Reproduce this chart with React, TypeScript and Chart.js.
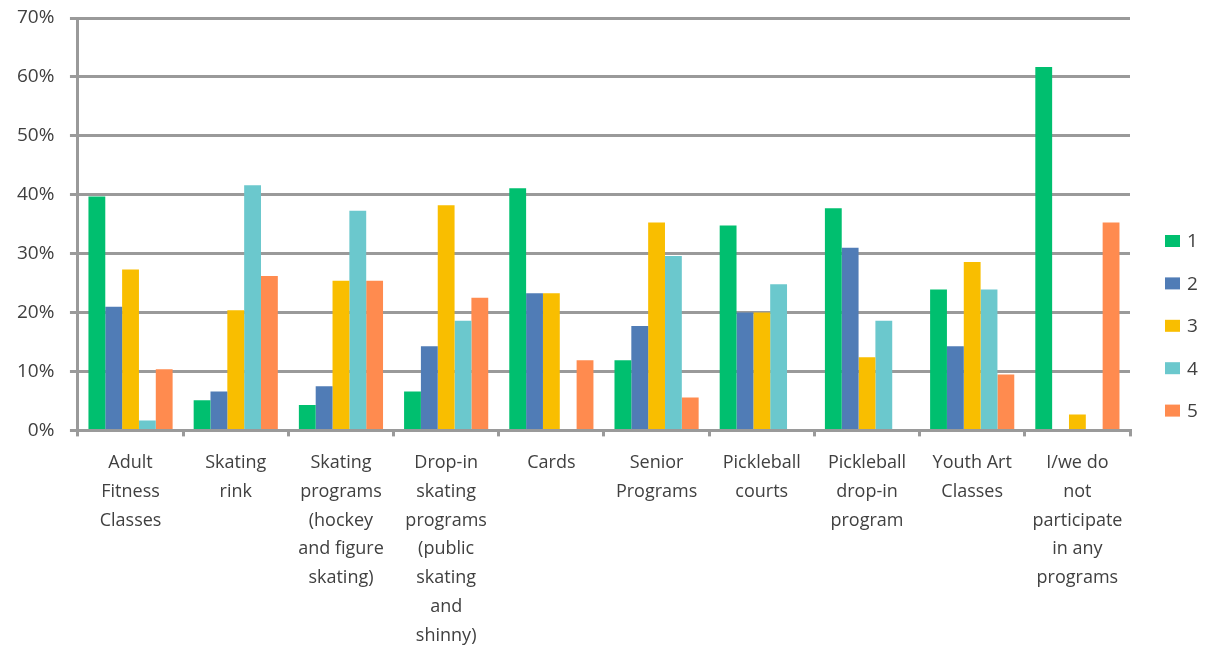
import React, { useEffect, useRef } from "react";
import { Chart, registerables } from "chart.js";

Chart.register(...registerables);

const categories: string[][] = [
  ["Adult", "Fitness", "Classes"],
  ["Skating", "rink"],
  ["Skating", "programs", "(hockey", "and figure", "skating)"],
  ["Drop-in", "skating", "programs", "(public", "skating", "and", "shinny)"],
  ["Cards"],
  ["Senior", "Programs"],
  ["Pickleball", "courts"],
  ["Pickleball", "drop-in", "program"],
  ["Youth Art", "Classes"],
  ["I/we do", "not", "participate", "in any", "programs"],
];

const seriesLabels = ["1", "2", "3", "4", "5"];
const seriesColors = ["#00BF6F", "#507CB6", "#F9BE00", "#6BC8CD", "#FF8B4F"];

const values1 = [39.7, 5.1, 4.3, 6.6, 41.1, 11.9, 34.8, 37.7, 23.9, 61.7];
const values2 = [21.0, 6.6, 7.5, 14.3, 23.3, 17.7, 20.0, 31.0, 14.3, 0];
const values3 = [27.3, 20.4, 25.4, 38.2, 23.3, 35.3, 20.0, 12.4, 28.6, 2.7];
const values4 = [1.7, 41.6, 37.3, 18.6, 0, 29.6, 24.8, 18.6, 23.9, 0];
const values5 = [10.4, 26.2, 25.4, 22.5, 11.9, 5.6, 0, 0, 9.5, 35.3];

const seriesValues = [values1, values2, values3, values4, values5];

const yMax = 70;
const yStep = 10;

const GRID = "#9a9a9a";
const TEXT = "#404040";
const FONT = "'Open Sans', 'DejaVu Sans', sans-serif";

const legendPlugin = {
  id: "sideLegend",
  afterDraw(chart: any) {
    const ctx = chart.ctx;
    const area = chart.chartArea;
    const x = area.right + 35;
    const startY = 241;
    const gap = 42.4;
    ctx.save();
    ctx.font = `19px ${FONT}`;
    ctx.textBaseline = "middle";
    ctx.textAlign = "left";
    chart.data.datasets.forEach((ds: any, i: number) => {
      const cy = startY + i * gap;
      ctx.fillStyle = ds.backgroundColor;
      ctx.fillRect(x, cy - 6, 15, 12);
      ctx.fillStyle = TEXT;
      ctx.fillText(ds.label, x + 22, cy + 1);
    });
    ctx.restore();
  },
};

export default function App() {
  const ref = useRef<HTMLCanvasElement | null>(null);

  useEffect(() => {
    if (!ref.current) return;
    const chart = new Chart(ref.current, {
      type: "bar",
      data: {
        labels: categories,
        datasets: seriesValues.map((vals, i) => ({
          label: seriesLabels[i],
          data: vals,
          backgroundColor: seriesColors[i],
          borderWidth: 0,
          categoryPercentage: 0.8,
          barPercentage: 1.0,
        })),
      },
      options: {
        responsive: false,
        animation: false,
        layout: { padding: { left: 11, right: 76, top: 18, bottom: -14 } },
        plugins: {
          legend: { display: false },
          tooltip: { enabled: false },
        },
        scales: {
          x: {
            grid: {
              display: true,
              drawOnChartArea: false,
              drawTicks: true,
              tickLength: 6,
              color: GRID,
              lineWidth: 3,
              offset: true,
            },
            border: { display: true, color: GRID, width: 3 },
            ticks: {
              color: TEXT,
              font: { family: FONT, size: 18, lineHeight: "28.8px" as any },
              padding: 12,
              maxRotation: 0,
              autoSkip: false,
            },
          },
          y: {
            min: 0,
            max: yMax,
            grid: {
              color: GRID,
              lineWidth: 3,
              drawTicks: true,
              tickLength: 8,
            },
            border: { display: true, color: GRID, width: 3 },
            ticks: {
              stepSize: yStep,
              color: TEXT,
              font: { family: FONT, size: 19 },
              padding: 6,
              callback: (v: any) => `${v}%\u2002`,
            },
          },
        },
      },
      plugins: [legendPlugin],
    });
    return () => chart.destroy();
  }, []);

  return (
    <div style={{ position: "fixed", left: 0, top: 0, width: 1206, height: 648, background: "#fff" }}>
      <canvas ref={ref} width={1206} height={648} style={{ width: 1206, height: 648, display: "block" }} />
    </div>
  );
}
